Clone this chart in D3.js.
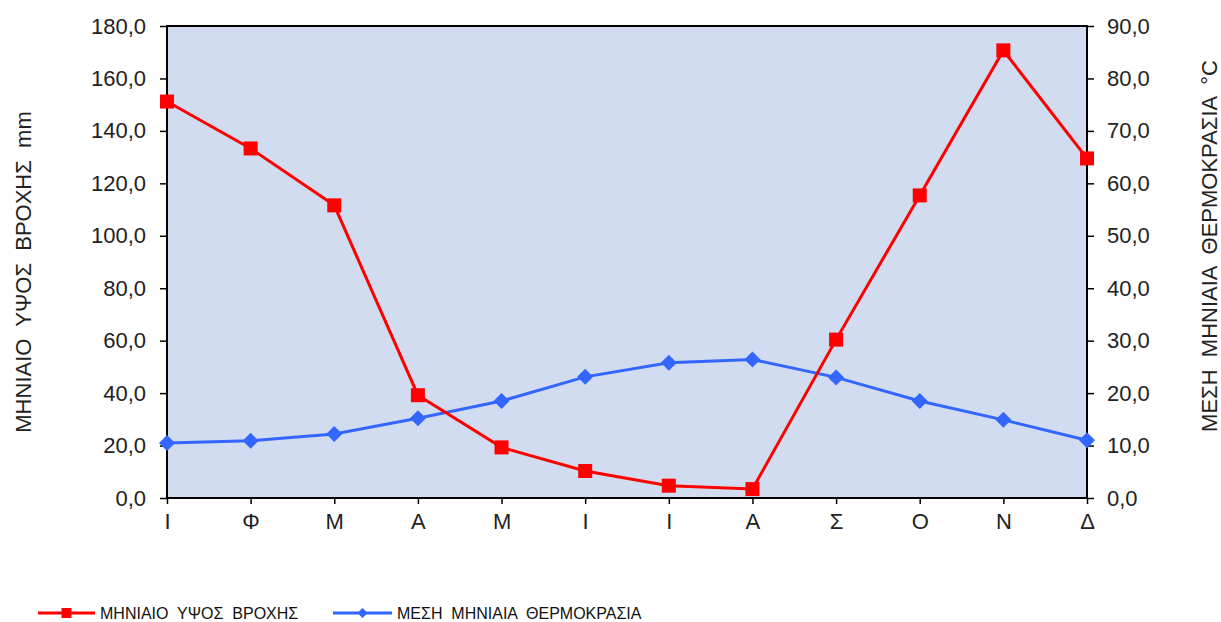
<!DOCTYPE html>
<html>
<head>
<meta charset="utf-8">
<script src="https://cdn.jsdelivr.net/npm/d3@7"></script>
<style>
  html, body { margin: 0; padding: 0; background: #fff; }
  svg { display: block; font-family: "Liberation Sans", Arial, sans-serif; }
</style>
</head>
<body>
<svg id="chart" width="1221" height="622"></svg>
<script>
// Month initials (Greek)
const months = ["Ι", "Φ", "Μ", "Α", "Μ", "Ι", "Ι", "Α", "Σ", "Ο", "Ν", "Δ"];
// Monthly rainfall height (mm)
const rainfall = [151.2, 133.3, 111.6, 39.2, 19.3, 10.3, 4.7, 3.4, 60.4, 115.4, 170.7, 129.5];
// Mean monthly temperature (°C)
const temperature = [10.5, 10.9, 12.2, 15.2, 18.5, 23.1, 25.8, 26.4, 23.0, 18.5, 14.9, 11.0];
const rainTicks = [0, 20, 40, 60, 80, 100, 120, 140, 160, 180];
const tempTicks = [0, 10, 20, 30, 40, 50, 60, 70, 80, 90];

const fmt = v => d3.format(".1f")(v).replace(".", ",");

const svg = d3.select("#chart");
const m = { left: 167, right: 1087, top: 26, bottom: 498 };

const x = d3.scalePoint().domain(d3.range(months.length)).range([m.left, m.right]).padding(0);
const yL = d3.scaleLinear().domain([0, 180]).range([m.bottom, m.top]);
const yR = d3.scaleLinear().domain([0, 90]).range([m.bottom, m.top]);

// plot area
svg.append("rect")
  .attr("x", m.left).attr("y", m.top)
  .attr("width", m.right - m.left).attr("height", m.bottom - m.top)
  .attr("fill", "#D1DCF0");

// left axis
const gL = svg.append("g").attr("transform", `translate(${m.left},0)`)
  .call(d3.axisLeft(yL).tickValues(rainTicks).tickFormat(fmt).tickSize(7).tickPadding(14));
// right axis
const gR = svg.append("g").attr("transform", `translate(${m.right},0)`)
  .call(d3.axisRight(yR).tickValues(tempTicks).tickFormat(fmt).tickSize(7).tickPadding(13));
// bottom axis
const gB = svg.append("g").attr("transform", `translate(0,${m.bottom})`)
  .call(d3.axisBottom(x).tickFormat(i => months[i]).tickSize(6).tickPadding(9));

[gL, gR, gB].forEach(g => {
  g.selectAll(".domain").remove();
  g.selectAll("line").attr("stroke", "#000").attr("stroke-width", 1.5);
  g.selectAll("text").attr("font-size", 22).attr("fill", "#222")
    .attr("font-family", "'Liberation Sans', Arial, sans-serif");
});

// frame
svg.append("rect")
  .attr("x", m.left).attr("y", m.top)
  .attr("width", m.right - m.left).attr("height", m.bottom - m.top)
  .attr("fill", "none").attr("stroke", "#000").attr("stroke-width", 2);

// temperature line
const lineT = d3.line().x((d, i) => x(i)).y(d => yR(d));
svg.append("path").datum(temperature)
  .attr("d", lineT).attr("fill", "none").attr("stroke", "#3366FF").attr("stroke-width", 3);
svg.selectAll(".tmark").data(temperature).join("path")
  .attr("class", "tmark")
  .attr("transform", (d, i) => `translate(${x(i)},${yR(d)})`)
  .attr("d", "M0,-8L8,0L0,8L-8,0Z")
  .attr("fill", "#3366FF");

// rainfall line
const lineR = d3.line().x((d, i) => x(i)).y(d => yL(d));
svg.append("path").datum(rainfall)
  .attr("d", lineR).attr("fill", "none").attr("stroke", "#FF0000").attr("stroke-width", 3);
svg.selectAll(".rmark").data(rainfall).join("rect")
  .attr("class", "rmark")
  .attr("x", (d, i) => x(i) - 7).attr("y", d => yL(d) - 7)
  .attr("width", 14).attr("height", 14)
  .attr("fill", "#FF0000");

// axis titles
svg.append("text")
  .attr("transform", "translate(31,272) rotate(-90)")
  .attr("text-anchor", "middle").attr("font-size", 22).attr("fill", "#222")
  .style("white-space", "pre")
  .text("ΜΗΝΙΑΙΟ  ΥΨΟΣ  ΒΡΟΧΗΣ  mm");
svg.append("text")
  .attr("transform", "translate(1217,246) rotate(-90)")
  .attr("text-anchor", "middle").attr("font-size", 22).attr("fill", "#222")
  .style("white-space", "pre")
  .text("ΜΕΣΗ  ΜΗΝΙΑΙΑ  ΘΕΡΜΟΚΡΑΣΙΑ  °C");

// legend
const legend = [
  { label: "ΜΗΝΙΑΙΟ  ΥΨΟΣ  ΒΡΟΧΗΣ", color: "#FF0000", shape: "square", x0: 38, x1: 95 },
  { label: "ΜΕΣΗ  ΜΗΝΙΑΙΑ  ΘΕΡΜΟΚΡΑΣΙΑ", color: "#3366FF", shape: "diamond", x0: 333, x1: 392 }
];
const ly = 613;
legend.forEach(l => {
  svg.append("line").attr("x1", l.x0).attr("x2", l.x1).attr("y1", ly).attr("y2", ly)
    .attr("stroke", l.color).attr("stroke-width", 3);
  const cx = (l.x0 + l.x1) / 2;
  if (l.shape === "square") {
    svg.append("rect").attr("x", cx - 5).attr("y", ly - 5).attr("width", 10).attr("height", 10).attr("fill", l.color);
  } else {
    svg.append("path").attr("transform", `translate(${cx},${ly})`).attr("d", "M0,-5L5,0L0,5L-5,0Z").attr("fill", l.color);
  }
  svg.append("text").attr("x", l.x1 + 5).attr("y", ly + 6)
    .attr("font-size", 16).attr("fill", "#111")
    .attr("font-family", "'Liberation Sans Narrow', 'Liberation Sans', Arial, sans-serif")
    .style("white-space", "pre")
    .text(l.label);
});
</script>
</body>
</html>
